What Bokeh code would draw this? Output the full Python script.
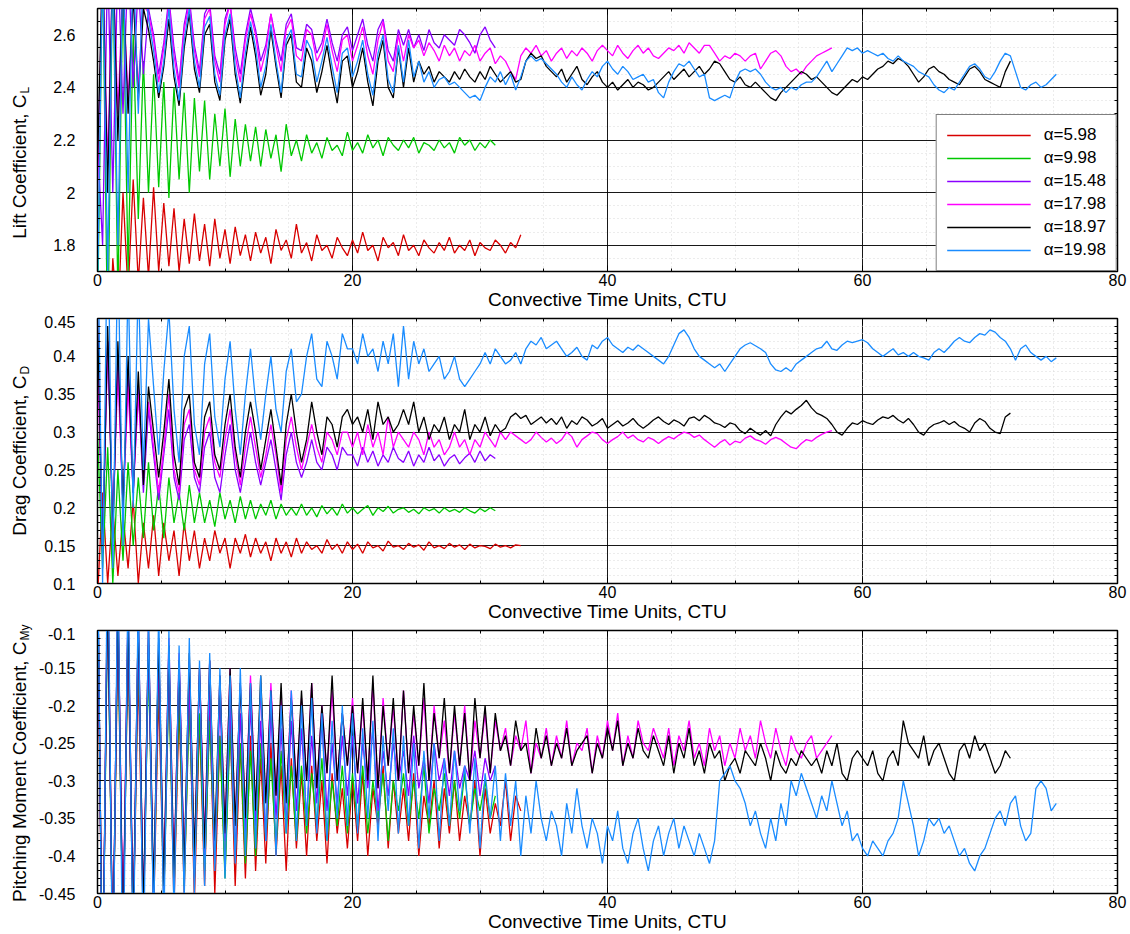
import numpy as np
from bokeh.plotting import figure
from bokeh.layouts import column, row
from bokeh.models import LinearAxis, FixedTicker, Label, Range1d
from bokeh.embed import file_html
from bokeh.resources import INLINE

# ---------------- data ----------------
DT = 0.4  # CTU between samples
ALPHA_LABELS = ["5.98", "9.98", "15.48", "17.98", "18.97", "19.98"]
COLORS = ["#d80000", "#00c800", "#8a00ff", "#ff00ff", "#000000", "#1a8cff"]

X_TICKS = [0, 20, 40, 60, 80]
X_TICK_LABELS = ["0", "20", "40", "60", "80"]

CL_TICKS = [1.8, 2.0, 2.2, 2.4, 2.6]
CL_TICK_LABELS = ["1.8", "2", "2.2", "2.4", "2.6"]
CD_TICKS = [0.1, 0.15, 0.2, 0.25, 0.3, 0.35, 0.4, 0.45]
CD_TICK_LABELS = ["0.1", "0.15", "0.2", "0.25", "0.3", "0.35", "0.4", "0.45"]
CM_TICKS = [-0.45, -0.4, -0.35, -0.3, -0.25, -0.2, -0.15, -0.1]
CM_TICK_LABELS = ["-0.45", "-0.4", "-0.35", "-0.3", "-0.25", "-0.2", "-0.15", "-0.1"]

# Lift coefficient
cl_598 = [1.3, 1.65, 1.2, 1.75, 1.5, 2.0, 1.62, 2.05, 1.66, 1.98,
          1.68, 2.02, 1.7, 1.96, 1.72, 1.94, 1.7, 1.9, 1.73, 1.92,
          1.74, 1.88, 1.72, 1.9, 1.75, 1.86, 1.73, 1.87, 1.76, 1.84,
          1.74, 1.85, 1.77, 1.83, 1.73, 1.86, 1.78, 1.82, 1.75, 1.88,
          1.77, 1.81, 1.74, 1.84, 1.78, 1.8, 1.75, 1.83, 1.79, 1.76,
          1.82, 1.77, 1.85, 1.78, 1.8, 1.74, 1.83, 1.79, 1.81, 1.76,
          1.84, 1.78, 1.8, 1.76, 1.82, 1.79, 1.77, 1.81, 1.78, 1.83,
          1.77, 1.8, 1.78, 1.82, 1.76, 1.81, 1.79, 1.78, 1.82, 1.8,
          1.77, 1.81, 1.79, 1.84]
cl_998 = [1.5, 2.9, 1.4, 2.9, 1.6, 2.8, 1.7, 2.6, 1.9, 2.5,
          2.0, 2.45, 2.02, 2.42, 1.98, 2.4, 2.05, 2.38, 2.0, 2.36,
          2.08, 2.35, 2.05, 2.3, 2.1, 2.32, 2.06, 2.28, 2.1, 2.26,
          2.12, 2.25, 2.1, 2.24, 2.13, 2.22, 2.08, 2.26, 2.14, 2.2,
          2.12, 2.22, 2.15, 2.19, 2.13, 2.21, 2.16, 2.18, 2.14, 2.23,
          2.16, 2.19, 2.15, 2.22, 2.17, 2.2, 2.14, 2.21, 2.18, 2.16,
          2.2, 2.17, 2.21, 2.15, 2.19, 2.18, 2.16, 2.2, 2.17, 2.19,
          2.15, 2.21, 2.18, 2.2, 2.16, 2.19, 2.17, 2.2, 2.18]
cl_1548 = [2.2, 1.8, 2.9, 2.0, 2.9, 2.3, 2.9, 2.4, 2.8, 2.45,
           2.7, 2.6, 2.45, 2.57, 2.74, 2.55, 2.42, 2.64, 2.74, 2.56,
           2.46, 2.68, 2.72, 2.52, 2.45, 2.66, 2.72, 2.55, 2.45, 2.6,
           2.7, 2.62, 2.5, 2.56, 2.68, 2.58, 2.5, 2.64, 2.68, 2.55,
           2.54, 2.64, 2.62, 2.53, 2.57, 2.66, 2.57, 2.5, 2.6, 2.63,
           2.54, 2.6, 2.66, 2.56, 2.5, 2.62, 2.66, 2.54, 2.5, 2.62,
           2.56, 2.62, 2.55, 2.6, 2.54, 2.62, 2.57, 2.55, 2.6, 2.58,
           2.56, 2.62, 2.6, 2.57, 2.53, 2.6, 2.63, 2.58, 2.55]
cl_1798 = [2.0, 2.9, 2.1, 2.9, 2.3, 2.8, 2.35, 2.75, 2.4, 2.72,
           2.68, 2.58, 2.42, 2.55, 2.72, 2.52, 2.4, 2.62, 2.72, 2.54,
           2.44, 2.66, 2.7, 2.5, 2.42, 2.64, 2.72, 2.52, 2.42, 2.58,
           2.68, 2.6, 2.46, 2.54, 2.68, 2.56, 2.46, 2.62, 2.66, 2.52,
           2.5, 2.62, 2.6, 2.5, 2.54, 2.64, 2.54, 2.46, 2.58, 2.6,
           2.5, 2.56, 2.63, 2.52, 2.45, 2.58, 2.65, 2.5, 2.46, 2.6,
           2.5, 2.6, 2.55, 2.58, 2.52, 2.57, 2.54, 2.5, 2.56, 2.52,
           2.55, 2.5, 2.54, 2.52, 2.56, 2.5, 2.53, 2.55, 2.49, 2.52,
           2.5, 2.46, 2.43, 2.52, 2.55, 2.53, 2.56, 2.52, 2.54, 2.5,
           2.53, 2.55, 2.51, 2.54, 2.52, 2.55, 2.53, 2.5, 2.54, 2.56,
           2.54, 2.52, 2.56, 2.53, 2.51, 2.54, 2.56, 2.53, 2.55, 2.52,
           2.51, 2.53, 2.55, 2.54, 2.56, 2.53, 2.57, 2.55, 2.53, 2.56,
           2.56, 2.53, 2.5, 2.52, 2.51, 2.53, 2.52, 2.5, 2.52, 2.53,
           2.47, 2.5, 2.53, 2.54, 2.52, 2.48, 2.46, 2.47, 2.45, 2.48,
           2.5, 2.52, 2.53, 2.54, 2.55]
cl_1897 = [2.1, 2.9, 2.0, 2.9, 2.2, 2.8, 2.3, 2.75, 2.35, 2.7,
           2.62, 2.5, 2.36, 2.48, 2.66, 2.44, 2.33, 2.55, 2.68, 2.47,
           2.38, 2.6, 2.64, 2.42, 2.35, 2.58, 2.66, 2.45, 2.34, 2.5,
           2.63, 2.52, 2.37, 2.45, 2.62, 2.48, 2.36, 2.56, 2.6, 2.42,
           2.4, 2.55, 2.5, 2.38, 2.46, 2.56, 2.44, 2.34, 2.5, 2.52,
           2.4, 2.46, 2.55, 2.42, 2.33, 2.5, 2.58, 2.4, 2.36, 2.55,
           2.4, 2.55, 2.42, 2.5, 2.45, 2.48, 2.42, 2.46, 2.44, 2.42,
           2.46, 2.43, 2.47, 2.44, 2.42, 2.46, 2.43, 2.48, 2.45, 2.42,
           2.44, 2.46, 2.42, 2.43, 2.5, 2.53, 2.51, 2.52, 2.48, 2.46,
           2.44, 2.47, 2.42, 2.45, 2.48, 2.43, 2.41, 2.44, 2.46, 2.42,
           2.4, 2.42, 2.39, 2.41, 2.43, 2.4, 2.42, 2.41, 2.39, 2.4,
           2.42, 2.44, 2.46, 2.43, 2.45, 2.47, 2.44, 2.46, 2.48, 2.45,
           2.47, 2.5, 2.49, 2.46, 2.43, 2.42, 2.44, 2.41, 2.4, 2.42,
           2.4, 2.38, 2.36, 2.35, 2.38, 2.4, 2.42, 2.44, 2.46, 2.45,
           2.43, 2.44, 2.42, 2.4, 2.38, 2.37, 2.39, 2.41, 2.43, 2.42,
           2.44, 2.43, 2.45, 2.47, 2.48, 2.5, 2.49, 2.51, 2.5, 2.48,
           2.45, 2.42, 2.44, 2.47, 2.48, 2.46, 2.45, 2.43, 2.42, 2.41,
           2.44, 2.47, 2.48, 2.46, 2.43, 2.42, 2.41, 2.4, 2.46, 2.5]
cl_1998 = [1.6, 2.9, 1.7, 2.9, 1.8, 2.9, 2.0, 2.9, 2.3, 2.85,
           2.66, 2.54, 2.38, 2.5, 2.7, 2.47, 2.35, 2.58, 2.7, 2.5,
           2.4, 2.63, 2.67, 2.45, 2.37, 2.6, 2.68, 2.48, 2.36, 2.53,
           2.65, 2.55, 2.4, 2.48, 2.64, 2.5, 2.38, 2.58, 2.62, 2.45,
           2.44, 2.58, 2.54, 2.42, 2.5, 2.59, 2.48, 2.38, 2.53, 2.55,
           2.44, 2.5, 2.58, 2.45, 2.37, 2.53, 2.6, 2.43, 2.38, 2.56,
           2.42, 2.58, 2.44, 2.5, 2.42, 2.46, 2.4, 2.43, 2.44, 2.41,
           2.42, 2.4, 2.38, 2.36, 2.37, 2.35, 2.4, 2.44, 2.42, 2.46,
           2.41, 2.45, 2.39, 2.44, 2.5, 2.52, 2.5, 2.51, 2.49, 2.47,
           2.45, 2.42, 2.4, 2.44, 2.41, 2.39, 2.43, 2.46, 2.44, 2.48,
           2.5, 2.47, 2.45, 2.48, 2.46, 2.43, 2.44, 2.45, 2.42, 2.43,
           2.38, 2.36, 2.42, 2.46, 2.49, 2.48, 2.5, 2.47, 2.44, 2.45,
           2.36, 2.35, 2.36, 2.37, 2.36, 2.42, 2.46, 2.47, 2.46, 2.47,
           2.45, 2.42, 2.4, 2.39, 2.4, 2.38, 2.4, 2.39, 2.41, 2.42,
           2.42, 2.44, 2.47, 2.5, 2.46, 2.49, 2.52, 2.55, 2.54, 2.55,
           2.53, 2.54, 2.53, 2.52, 2.53, 2.51, 2.5, 2.52, 2.5, 2.49,
           2.48, 2.46, 2.45, 2.44, 2.41, 2.39, 2.38, 2.4, 2.39, 2.42,
           2.45, 2.48, 2.49, 2.47, 2.44, 2.43, 2.46, 2.5, 2.53, 2.52,
           2.46, 2.4, 2.39, 2.41, 2.42, 2.4, 2.41, 2.43, 2.45]

# Drag coefficient
cd_598 = [0.08, 0.22, 0.1, 0.2, 0.11, 0.19, 0.12, 0.21, 0.1, 0.18,
          0.12, 0.19, 0.11, 0.18, 0.13, 0.17, 0.11, 0.18, 0.13, 0.17,
          0.12, 0.16, 0.13, 0.17, 0.14, 0.16, 0.12, 0.16, 0.14, 0.165,
          0.135, 0.16, 0.14, 0.155, 0.13, 0.16, 0.14, 0.155, 0.135, 0.16,
          0.14, 0.155, 0.145, 0.15, 0.14, 0.158, 0.145, 0.152, 0.14, 0.155,
          0.145, 0.152, 0.14, 0.155, 0.147, 0.15, 0.143, 0.156, 0.148, 0.15,
          0.145, 0.153, 0.148, 0.151, 0.144, 0.155, 0.147, 0.15, 0.146, 0.153,
          0.148, 0.151, 0.145, 0.152, 0.147, 0.15, 0.149, 0.146, 0.152, 0.148,
          0.15, 0.147, 0.151, 0.15]
cd_998 = [0.3, 0.12, 0.28, 0.1, 0.25, 0.13, 0.26, 0.15, 0.24, 0.16,
          0.26, 0.17, 0.23, 0.16, 0.24, 0.18, 0.22, 0.17, 0.23, 0.18,
          0.22, 0.18, 0.21, 0.175, 0.22, 0.185, 0.21, 0.18, 0.215, 0.185,
          0.21, 0.185, 0.205, 0.19, 0.21, 0.185, 0.205, 0.19, 0.2, 0.19,
          0.205, 0.19, 0.2, 0.188, 0.203, 0.192, 0.2, 0.19, 0.205, 0.193,
          0.2, 0.192, 0.198, 0.203, 0.19, 0.2, 0.195, 0.202, 0.193, 0.198,
          0.2, 0.194, 0.198, 0.192, 0.2, 0.196, 0.199, 0.193, 0.2, 0.195,
          0.198, 0.194, 0.2, 0.196, 0.193, 0.199, 0.195, 0.2, 0.196]
cd_1548 = [0.45, 0.15, 0.42, 0.18, 0.4, 0.2, 0.38, 0.22, 0.36, 0.22,
           0.33, 0.27, 0.21, 0.27, 0.33, 0.24, 0.21, 0.29, 0.31, 0.24,
           0.22, 0.28, 0.3, 0.24, 0.22, 0.27, 0.31, 0.25, 0.22, 0.26,
           0.3, 0.26, 0.23, 0.26, 0.29, 0.25, 0.21, 0.27, 0.3, 0.26,
           0.24, 0.26, 0.29, 0.26, 0.25, 0.28, 0.27, 0.25, 0.28, 0.27,
           0.27, 0.255, 0.28, 0.26, 0.275, 0.255, 0.27, 0.26, 0.28, 0.265,
           0.26, 0.275, 0.255, 0.27, 0.26, 0.28, 0.262, 0.27, 0.255, 0.265,
           0.27, 0.258, 0.266, 0.272, 0.26, 0.275, 0.262, 0.27, 0.265]
cd_1798 = [0.4, 0.15, 0.42, 0.18, 0.38, 0.2, 0.36, 0.22, 0.35, 0.24,
           0.34, 0.28, 0.22, 0.28, 0.35, 0.25, 0.22, 0.31, 0.33, 0.25,
           0.23, 0.3, 0.32, 0.26, 0.24, 0.29, 0.33, 0.27, 0.23, 0.28,
           0.32, 0.28, 0.24, 0.27, 0.31, 0.27, 0.22, 0.29, 0.32, 0.28,
           0.25, 0.28, 0.31, 0.28, 0.26, 0.3, 0.29, 0.27, 0.3, 0.3,
           0.28, 0.3, 0.27, 0.31, 0.28, 0.3, 0.27, 0.32, 0.28, 0.3,
           0.29, 0.28, 0.3, 0.29, 0.27, 0.3, 0.28, 0.29, 0.27, 0.28,
           0.3, 0.28, 0.29, 0.27, 0.29, 0.28, 0.3, 0.29, 0.28, 0.3,
           0.29, 0.3, 0.295, 0.29, 0.285, 0.29, 0.3, 0.293, 0.287, 0.292,
           0.285, 0.29, 0.3, 0.294, 0.28, 0.29, 0.295, 0.3, 0.298, 0.29,
           0.285, 0.29, 0.294, 0.3, 0.292, 0.296, 0.29, 0.287, 0.293, 0.29,
           0.285, 0.29, 0.294, 0.291, 0.296, 0.3, 0.298, 0.293, 0.296, 0.29,
           0.285, 0.28, 0.286, 0.29, 0.283, 0.288, 0.286, 0.292, 0.295, 0.29,
           0.288, 0.284, 0.29, 0.293, 0.29, 0.285, 0.28, 0.278, 0.285, 0.29,
           0.288, 0.293, 0.297, 0.3, 0.302]
cd_1897 = [0.45, 0.14, 0.44, 0.16, 0.42, 0.2, 0.4, 0.22, 0.38, 0.23,
           0.36, 0.3, 0.24, 0.3, 0.37, 0.27, 0.23, 0.33, 0.35, 0.26,
           0.24, 0.32, 0.34, 0.27, 0.25, 0.31, 0.35, 0.28, 0.24, 0.3,
           0.34, 0.3, 0.25, 0.29, 0.33, 0.28, 0.23, 0.31, 0.35, 0.3,
           0.26, 0.29, 0.34, 0.3, 0.27, 0.32, 0.31, 0.28, 0.32, 0.33,
           0.31, 0.32, 0.3, 0.33, 0.29, 0.34, 0.31, 0.32, 0.3, 0.31,
           0.33, 0.31, 0.34, 0.3, 0.32, 0.29, 0.31, 0.3, 0.32, 0.29,
           0.31, 0.3, 0.33, 0.29, 0.31, 0.3, 0.32, 0.295, 0.31, 0.3,
           0.305, 0.32, 0.325, 0.318, 0.322, 0.31, 0.315, 0.32, 0.312, 0.318,
           0.31, 0.32, 0.305, 0.315, 0.31, 0.32, 0.316, 0.308, 0.312, 0.318,
           0.305, 0.31, 0.315, 0.308, 0.312, 0.318, 0.31, 0.305, 0.31, 0.316,
           0.32, 0.314, 0.31, 0.316, 0.313, 0.308, 0.318, 0.32, 0.315, 0.322,
           0.318, 0.312, 0.31, 0.306, 0.312, 0.31, 0.302, 0.298, 0.305, 0.3,
           0.296, 0.302, 0.295, 0.31, 0.32, 0.328, 0.324, 0.33, 0.335, 0.342,
           0.332, 0.325, 0.322, 0.318, 0.31, 0.3, 0.296, 0.305, 0.312, 0.31,
           0.315, 0.312, 0.31, 0.316, 0.32, 0.318, 0.322, 0.316, 0.312, 0.318,
           0.31, 0.3, 0.296, 0.305, 0.31, 0.312, 0.315, 0.31, 0.314, 0.308,
           0.305, 0.3, 0.312, 0.318, 0.314, 0.305, 0.3, 0.298, 0.32, 0.325]
cd_1998 = [0.6, 0.1, 0.6, 0.12, 0.55, 0.15, 0.5, 0.2, 0.5, 0.25,
           0.45, 0.36, 0.27, 0.38, 0.46, 0.33, 0.26, 0.4, 0.44, 0.31,
           0.27, 0.39, 0.43, 0.32, 0.28, 0.37, 0.42, 0.33, 0.27, 0.35,
           0.41, 0.34, 0.29, 0.35, 0.4, 0.33, 0.3, 0.38, 0.41, 0.34,
           0.35, 0.4, 0.43, 0.37, 0.36, 0.42, 0.4, 0.37, 0.43, 0.41,
           0.41, 0.39, 0.43, 0.4, 0.41, 0.38, 0.42, 0.39, 0.43, 0.36,
           0.44, 0.37, 0.42, 0.39, 0.41, 0.38, 0.39, 0.4, 0.37, 0.38,
           0.4, 0.37, 0.36, 0.37, 0.38, 0.39, 0.405, 0.39, 0.41, 0.4,
           0.39, 0.395, 0.405, 0.39, 0.41, 0.42, 0.415, 0.425, 0.41, 0.415,
           0.42, 0.41, 0.4, 0.405, 0.412, 0.4, 0.395, 0.415, 0.41, 0.42,
           0.425, 0.415, 0.41, 0.405, 0.412, 0.408, 0.415, 0.41, 0.405, 0.4,
           0.395, 0.39, 0.4, 0.415, 0.43, 0.435, 0.425, 0.41, 0.4, 0.395,
           0.39, 0.385, 0.39, 0.38, 0.39, 0.4, 0.41, 0.415, 0.418, 0.414,
           0.41, 0.405, 0.39, 0.382, 0.38, 0.385, 0.38, 0.39, 0.395, 0.4,
           0.405, 0.41, 0.412, 0.42, 0.41, 0.408, 0.415, 0.42, 0.418, 0.42,
           0.422, 0.418, 0.41, 0.405, 0.4, 0.405, 0.41, 0.402, 0.405, 0.4,
           0.405, 0.4, 0.398, 0.395, 0.405, 0.41, 0.405, 0.412, 0.42, 0.425,
           0.42, 0.418, 0.425, 0.43, 0.428, 0.435, 0.432, 0.425, 0.42, 0.41,
           0.395, 0.41, 0.415, 0.405, 0.4, 0.395, 0.4, 0.393, 0.398]

# Pitching moment coefficient
cm_598 = [-0.05, -0.6, 0.0, -0.55, -0.1, -0.5, -0.12, -0.5, -0.15, -0.5,
          -0.12, -0.48, -0.18, -0.46, -0.15, -0.47, -0.2, -0.45, -0.18, -0.46,
          -0.22, -0.44, -0.2, -0.45, -0.24, -0.42, -0.22, -0.44, -0.25, -0.43,
          -0.24, -0.42, -0.27, -0.41, -0.25, -0.4, -0.28, -0.42, -0.27, -0.39,
          -0.29, -0.4, -0.28, -0.38, -0.3, -0.41, -0.29, -0.37, -0.31, -0.39,
          -0.3, -0.38, -0.29, -0.4, -0.31, -0.36, -0.28, -0.39, -0.3, -0.37,
          -0.31, -0.38, -0.29, -0.4, -0.32, -0.36, -0.3, -0.39, -0.31, -0.37,
          -0.3, -0.38, -0.32, -0.36, -0.3, -0.4, -0.31, -0.37, -0.33, -0.36,
          -0.3, -0.38, -0.32, -0.34]
cm_998 = [0.0, -0.6, -0.05, -0.55, -0.08, -0.52, -0.1, -0.5, -0.12, -0.48,
          -0.14, -0.47, -0.15, -0.46, -0.17, -0.45, -0.18, -0.44, -0.2, -0.43,
          -0.21, -0.42, -0.22, -0.41, -0.24, -0.43, -0.23, -0.4, -0.25, -0.41,
          -0.26, -0.4, -0.25, -0.38, -0.27, -0.39, -0.26, -0.37, -0.28, -0.38,
          -0.28, -0.37, -0.29, -0.36, -0.27, -0.38, -0.3, -0.36, -0.28, -0.37,
          -0.29, -0.36, -0.28, -0.37, -0.3, -0.35, -0.29, -0.38, -0.3, -0.34,
          -0.29, -0.36, -0.3, -0.35, -0.28, -0.37, -0.31, -0.34, -0.29, -0.36,
          -0.3, -0.35, -0.29, -0.36, -0.31, -0.34, -0.3, -0.35, -0.32]
cm_1548 = [0.0, -0.6, -0.02, -0.55, -0.05, -0.52, -0.08, -0.5, -0.1, -0.48,
           -0.12, -0.46, -0.13, -0.45, -0.15, -0.44, -0.14, -0.42, -0.17, -0.43,
           -0.16, -0.4, -0.18, -0.41, -0.19, -0.38, -0.2, -0.4, -0.21, -0.37,
           -0.2, -0.36, -0.22, -0.38, -0.21, -0.35, -0.23, -0.36, -0.22, -0.34,
           -0.23, -0.35, -0.24, -0.33, -0.22, -0.34, -0.25, -0.33, -0.24, -0.32,
           -0.24, -0.33, -0.25, -0.31, -0.23, -0.34, -0.26, -0.32, -0.25, -0.3,
           -0.26, -0.32, -0.24, -0.31, -0.27, -0.33, -0.25, -0.3, -0.27, -0.32,
           -0.26, -0.31, -0.28, -0.3, -0.26, -0.32, -0.27, -0.3, -0.28]
cm_1798 = [0.0, -0.6, -0.02, -0.55, -0.05, -0.5, -0.06, -0.5, -0.08, -0.48,
           -0.1, -0.46, -0.12, -0.44, -0.11, -0.43, -0.13, -0.42, -0.14, -0.4,
           -0.15, -0.38, -0.14, -0.4, -0.16, -0.37, -0.15, -0.36, -0.17, -0.35,
           -0.16, -0.34, -0.18, -0.33, -0.17, -0.32, -0.19, -0.33, -0.18, -0.31,
           -0.19, -0.3, -0.17, -0.31, -0.2, -0.29, -0.18, -0.3, -0.21, -0.28,
           -0.19, -0.29, -0.2, -0.3, -0.17, -0.31, -0.19, -0.28, -0.2, -0.3,
           -0.18, -0.29, -0.21, -0.28, -0.19, -0.3, -0.2, -0.27, -0.22, -0.29,
           -0.21, -0.28, -0.2, -0.3, -0.22, -0.27, -0.21, -0.29, -0.22, -0.26,
           -0.23, -0.28, -0.24, -0.26, -0.22, -0.29, -0.25, -0.27, -0.23, -0.28,
           -0.24, -0.27, -0.22, -0.28, -0.25, -0.26, -0.23, -0.29, -0.24, -0.27,
           -0.22, -0.26, -0.21, -0.28, -0.24, -0.27, -0.22, -0.25, -0.26, -0.23,
           -0.25, -0.27, -0.23, -0.28, -0.24, -0.26, -0.22, -0.27, -0.25, -0.28,
           -0.23, -0.26, -0.24, -0.28, -0.25, -0.27, -0.23, -0.26, -0.24, -0.27,
           -0.22, -0.25, -0.27, -0.23, -0.26, -0.28, -0.24, -0.26, -0.27, -0.25,
           -0.24, -0.27, -0.26, -0.25, -0.24]
cm_1897 = [0.0, -0.6, -0.03, -0.55, -0.05, -0.52, -0.07, -0.5, -0.08, -0.48,
           -0.1, -0.45, -0.11, -0.44, -0.12, -0.43, -0.14, -0.42, -0.13, -0.4,
           -0.15, -0.39, -0.14, -0.38, -0.16, -0.37, -0.15, -0.36, -0.17, -0.35,
           -0.17, -0.34, -0.16, -0.33, -0.18, -0.32, -0.17, -0.33, -0.19, -0.31,
           -0.18, -0.3, -0.17, -0.31, -0.2, -0.29, -0.16, -0.3, -0.21, -0.28,
           -0.2, -0.29, -0.19, -0.3, -0.16, -0.31, -0.2, -0.28, -0.19, -0.3,
           -0.18, -0.29, -0.2, -0.28, -0.17, -0.3, -0.21, -0.27, -0.19, -0.29,
           -0.2, -0.28, -0.21, -0.3, -0.19, -0.27, -0.2, -0.29, -0.21, -0.26,
           -0.24, -0.28, -0.22, -0.26, -0.25, -0.29, -0.23, -0.27, -0.24, -0.28,
           -0.25, -0.27, -0.23, -0.28, -0.26, -0.25, -0.24, -0.29, -0.25, -0.27,
           -0.23, -0.26, -0.22, -0.28, -0.25, -0.27, -0.23, -0.26, -0.27, -0.24,
           -0.26, -0.28, -0.24, -0.29, -0.25, -0.27, -0.23, -0.28, -0.26, -0.29,
           -0.25, -0.27, -0.26, -0.3, -0.28, -0.27, -0.29, -0.26, -0.27, -0.28,
           -0.25, -0.27, -0.3, -0.26, -0.28, -0.29, -0.27, -0.28, -0.26, -0.27,
           -0.28, -0.27, -0.29, -0.26, -0.28, -0.25, -0.29, -0.3, -0.27, -0.26,
           -0.27, -0.28, -0.26, -0.29, -0.3, -0.27, -0.26, -0.28, -0.22, -0.25,
           -0.26, -0.27, -0.24, -0.28, -0.26, -0.25, -0.27, -0.29, -0.3, -0.26,
           -0.25, -0.27, -0.24, -0.26, -0.25, -0.27, -0.29, -0.28, -0.26, -0.27]
cm_1998 = [0.05, -0.65, 0.05, -0.6, 0.0, -0.6, -0.02, -0.55, -0.05, -0.55,
           -0.08, -0.5, -0.07, -0.5, -0.1, -0.48, -0.12, -0.46, -0.11, -0.45,
           -0.14, -0.44, -0.13, -0.42, -0.15, -0.43, -0.16, -0.41, -0.15, -0.4,
           -0.17, -0.39, -0.16, -0.38, -0.18, -0.4, -0.2, -0.37, -0.18, -0.38,
           -0.2, -0.36, -0.19, -0.37, -0.21, -0.38, -0.22, -0.35, -0.2, -0.36,
           -0.21, -0.37, -0.23, -0.35, -0.22, -0.38, -0.24, -0.34, -0.23, -0.37,
           -0.24, -0.36, -0.25, -0.39, -0.26, -0.35, -0.25, -0.38, -0.27, -0.36,
           -0.26, -0.34, -0.28, -0.37, -0.27, -0.39, -0.29, -0.35, -0.28, -0.38,
           -0.29, -0.36, -0.3, -0.4, -0.32, -0.37, -0.3, -0.35, -0.38, -0.34,
           -0.36, -0.4, -0.33, -0.37, -0.31, -0.36, -0.39, -0.35, -0.37, -0.41,
           -0.36, -0.38, -0.34, -0.39, -0.41, -0.37, -0.35, -0.39, -0.42, -0.38,
           -0.36, -0.4, -0.37, -0.35, -0.39, -0.36, -0.38, -0.4, -0.37, -0.39,
           -0.41, -0.38, -0.3, -0.29, -0.28, -0.3, -0.31, -0.33, -0.36, -0.34,
           -0.37, -0.39, -0.35, -0.38, -0.33, -0.36, -0.3, -0.32, -0.29, -0.31,
           -0.33, -0.35, -0.32, -0.34, -0.3, -0.33, -0.36, -0.34, -0.38, -0.37,
           -0.39, -0.4, -0.38, -0.39, -0.4, -0.38, -0.37, -0.35, -0.3, -0.33,
           -0.36, -0.4, -0.38, -0.35, -0.36, -0.35, -0.37, -0.36, -0.38, -0.4,
           -0.39, -0.41, -0.42, -0.4, -0.39, -0.37, -0.35, -0.34, -0.36, -0.33,
           -0.32, -0.36, -0.38, -0.37, -0.31, -0.3, -0.31, -0.34, -0.33]

# y-axis titles: (main text, subscript)
Y_TITLES = [("Lift Coefficient, C", "L"),
            ("Drag Coefficient, C", "D"),
            ("Pitching Moment Coefficient, C", "My")]
X_TITLE = "Convective Time Units, CTU"

# ---------------- styling ----------------
FONT = "Liberation Sans"
TICK_FS = "16px"
TITLE_FS = "19px"
SUB_FS = "12px"
PAGE_H = 934
STRIP_W = 34


def make_ticker(major, minor):
    return FixedTicker(ticks=major, minor_ticks=minor)


def build(series, y_lo, y_hi, yticks, ylabels, yminor, height, top, bottom,
          legend=False):
    p = figure(width=1130 - STRIP_W, height=height, x_range=Range1d(0, 80),
               y_range=Range1d(y_lo, y_hi), output_backend="svg",
               toolbar_location=None, min_border_left=97 - STRIP_W,
               min_border_right=13, min_border_top=top,
               min_border_bottom=bottom)
    p.outline_line_color = "black"
    p.outline_line_width = 1.5
    p.background_fill_color = "white"

    xminor = list(range(0, 81, 5))
    xt = make_ticker(X_TICKS, xminor)
    yt = make_ticker(yticks, yminor)

    p.xaxis.ticker = xt
    p.yaxis.ticker = yt
    p.xgrid.ticker = xt
    p.ygrid.ticker = yt
    p.xaxis.major_label_overrides = dict(zip(X_TICKS, X_TICK_LABELS))
    p.yaxis.major_label_overrides = dict(zip(yticks, ylabels))

    for ax in (p.xaxis[0], p.yaxis[0]):
        ax.major_tick_in = 6
        ax.major_tick_out = 0
        ax.minor_tick_in = 3
        ax.minor_tick_out = 0
        ax.axis_line_color = "black"
        ax.major_tick_line_color = "black"
        ax.minor_tick_line_color = "black"
        ax.major_label_text_font = FONT
        ax.major_label_text_font_size = TICK_FS
        ax.major_label_text_color = "black"
    p.xaxis.major_label_standoff = 2
    p.yaxis.major_label_standoff = 22
    p.xaxis.axis_label = X_TITLE
    p.xaxis.axis_label_standoff = 0
    p.xaxis.axis_label_text_font = FONT
    p.xaxis.axis_label_text_font_size = TITLE_FS
    p.xaxis.axis_label_text_font_style = "normal"
    p.xaxis.axis_label_text_color = "black"

    # mirrored tick marks on the right and top edges
    for loc, ticks, minor in (("right", yticks, yminor), ("above", X_TICKS, xminor)):
        ax = LinearAxis(ticker=make_ticker(ticks, minor),
                        major_label_overrides={v: "" for v in ticks},
                        major_label_text_font_size="1px",
                        major_label_standoff=0,
                        major_tick_in=6, major_tick_out=0,
                        minor_tick_in=3, minor_tick_out=0,
                        axis_line_color="black")
        p.add_layout(ax, loc)

    for g in (p.xgrid[0], p.ygrid[0]):
        g.grid_line_color = "black"
        g.grid_line_width = 1
        g.grid_line_alpha = 0.9
        g.minor_grid_line_color = "#d8d8d8"
        g.minor_grid_line_dash = "1 3"
        g.minor_grid_line_width = 1

    for vals, color, alab in zip(series, COLORS, ALPHA_LABELS):
        t = np.arange(len(vals)) * DT
        kw = {"legend_label": "\u03b1=" + alab} if legend else {}
        p.line(t, vals, line_color=color, line_width=1.3, **kw)

    if legend:
        lg = p.legend[0]
        lg.location = "bottom_right"
        lg.margin = 0
        lg.border_line_color = "black"
        lg.border_line_width = 1.5
        lg.background_fill_color = "white"
        lg.background_fill_alpha = 1
        lg.padding = 10
        lg.spacing = 3
        lg.glyph_width = 84
        lg.glyph_height = 20
        lg.label_height = 20
        lg.label_standoff = 13
        lg.label_text_font = FONT
        lg.label_text_font_size = "17px"
        lg.label_text_color = "black"
    return p


cl_minor = [round(1.7 + 0.05 * i, 3) for i in range(21)]
cd_minor = [round(0.1 + 0.01 * i, 3) for i in range(36)]
cm_minor = [round(-0.45 + 0.01 * i, 3) for i in range(36)]

p1 = build([cl_598, cl_998, cl_1548, cl_1798, cl_1897, cl_1998], 1.7, 2.7,
           CL_TICKS, CL_TICK_LABELS, cl_minor, 315, 8, 44, legend=True)
p2 = build([cd_598, cd_998, cd_1548, cd_1798, cd_1897, cd_1998], 0.1, 0.45,
           CD_TICKS, CD_TICK_LABELS, cd_minor, 312, 3, 44)
p3 = build([cm_598, cm_998, cm_1548, cm_1798, cm_1897, cm_1998], -0.45, -0.1,
           CM_TICKS, CM_TICK_LABELS, cm_minor, 307, 3, 41)

# strip on the left holding the rotated y-axis titles (page pixel coordinates)
strip = figure(width=STRIP_W, height=PAGE_H, x_range=Range1d(0, STRIP_W),
               y_range=Range1d(0, PAGE_H), x_axis_type=None, y_axis_type=None,
               output_backend="svg", toolbar_location=None, min_border=0)
strip.outline_line_color = None
strip.grid.visible = False
TITLE_END_Y = [PAGE_H - 94, PAGE_H - 375, PAGE_H - 641]  # where main text ends
for (main, sub), yend in zip(Y_TITLES, TITLE_END_Y):
    strip.add_layout(Label(x=19, y=yend, angle=np.pi / 2, text=main,
                           text_align="right", text_baseline="middle",
                           text_font=FONT, text_font_size=TITLE_FS,
                           text_color="black"))
    strip.add_layout(Label(x=24, y=yend + 1, angle=np.pi / 2, text=sub,
                           text_align="left", text_baseline="middle",
                           text_font=FONT, text_font_size=SUB_FS,
                           text_color="black"))

layout = row(strip, column(p1, p2, p3, spacing=0), spacing=0)
open("out.html", "w").write(file_html(layout, INLINE))
